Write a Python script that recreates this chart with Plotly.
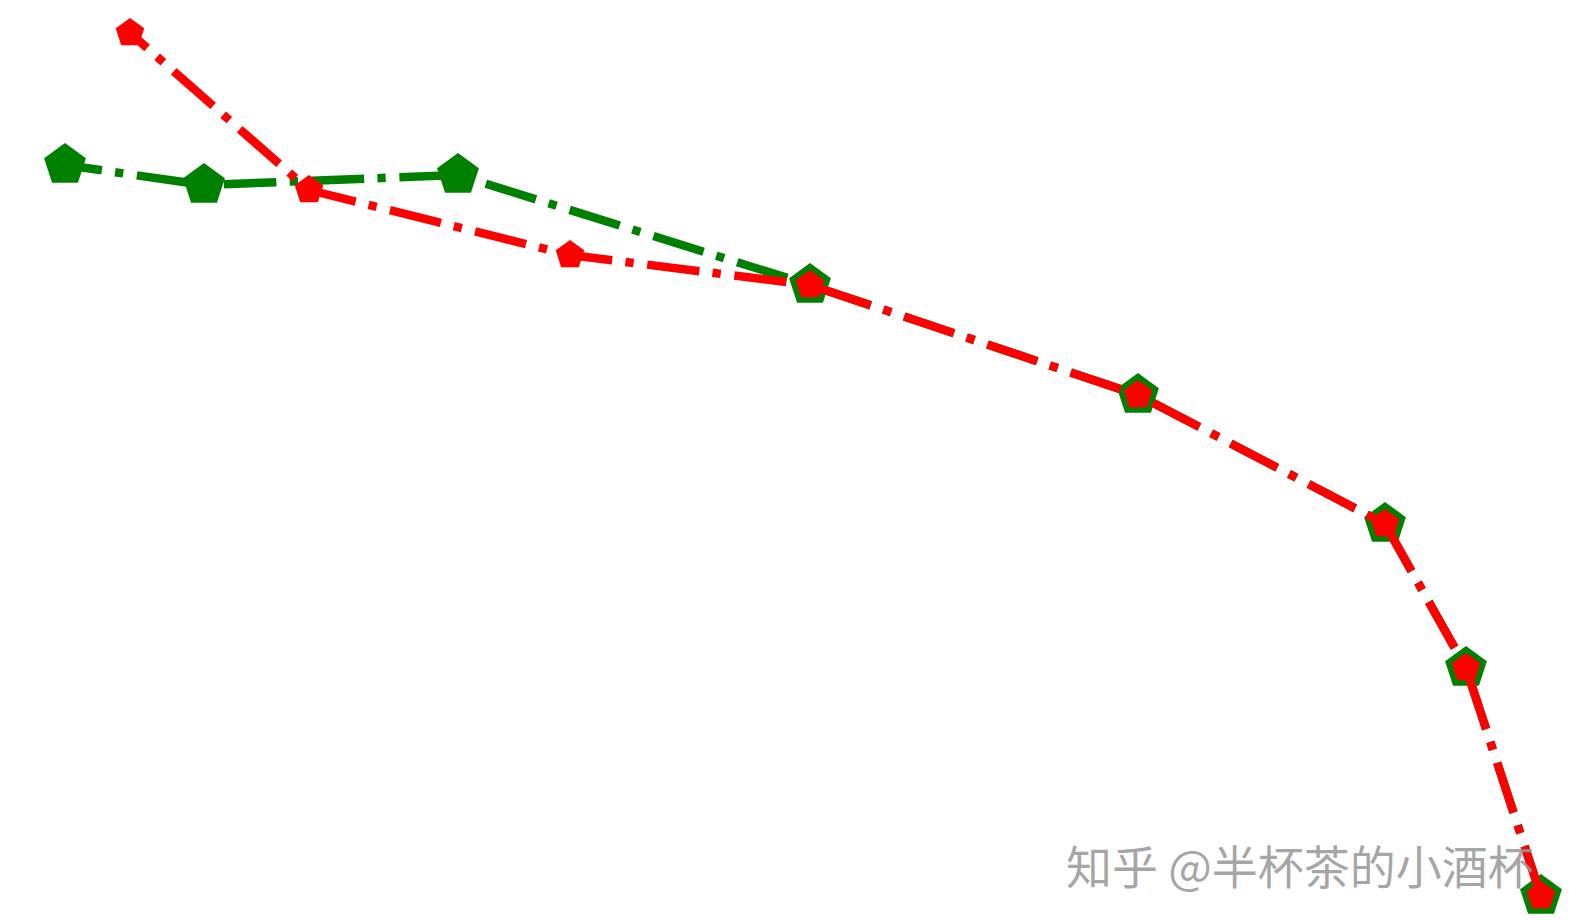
import plotly.graph_objects as go

# path points (x to the right, y downward),
# listed from the goal (bottom right) back to the start
ref_x = [1533, 1458, 1377, 1130, 802, 450, 196, 57]
ref_y = [888, 660, 516, 387, 277, 167, 177, 157]

smooth_x = [1533, 1458, 1377, 1130, 802, 562, 301, 122]
smooth_y = [888, 660, 516, 387, 277, 247, 182, 25]

watermark = "知乎 @半杯茶的小酒杯"

dashdot = "52.5px,13.7px,8.3px,13.3px"

fig = go.Figure()

fig.add_trace(go.Scatter(
    x=ref_x, y=ref_y, mode="lines+markers",
    line=dict(color="green", width=8.5, dash=dashdot),
    marker=dict(symbol="pentagon", size=44, color="green"),
))

fig.add_trace(go.Scatter(
    x=smooth_x, y=smooth_y, mode="lines+markers",
    line=dict(color="red", width=8.5, dash=dashdot),
    marker=dict(symbol="pentagon", size=30, color="red"),
))

fig.add_annotation(
    text=watermark, xref="paper", yref="paper",
    x=0.962, y=0.07, xanchor="right", yanchor="middle",
    showarrow=False, borderpad=0,
    font=dict(family="Noto Sans CJK SC", size=46, color="rgba(150,150,150,0.85)"),
)

fig.update_xaxes(visible=False, range=[0, 1587])
fig.update_yaxes(visible=False, range=[920, 0])
fig.update_layout(
    width=1587, height=920,
    margin=dict(l=0, r=0, t=0, b=0),
    plot_bgcolor="white", paper_bgcolor="white",
    showlegend=False,
)

fig.write_html("out.html")
